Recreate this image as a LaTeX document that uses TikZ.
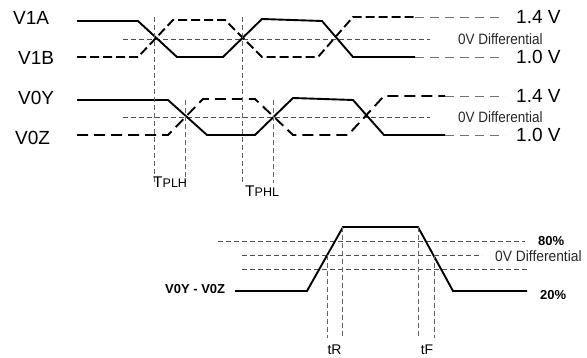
\documentclass[tikz,border=0pt]{standalone}
\usepackage{fontspec}
\setmainfont{Liberation Sans}
\begin{document}
\begin{tikzpicture}[x=1pt,y=-1pt,
  sig/.style={line width=1.9pt, black},
  sigd/.style={sig, dash pattern=on 9pt off 4pt},
  sigdd/.style={sig, dash pattern=on 11pt off 6pt},
  guide/.style={black!60, line width=0.8pt, dash pattern=on 5pt off 3pt},
  zline/.style={black!70, line width=0.8pt, dash pattern=on 5pt off 3pt},
  ext/.style={black!55, line width=0.9pt, dash pattern=on 9pt off 6pt},
  lbl/.style={font=\fontsize{19}{21}\selectfont, inner sep=0pt, anchor=west},
  difl/.style={font=\fontsize{15}{17}\selectfont, inner sep=0pt, anchor=west, black!85},
  bl/.style={font=\bfseries\fontsize{13}{15}\selectfont, inner sep=0pt, anchor=west},
  tl/.style={font=\fontsize{14}{16}\selectfont, inner sep=0pt, anchor=base}
]
\useasboundingbox (0,0) rectangle (587,358);

% ---------- top: V1A / V1B ----------
\node[lbl] (v1a) at (13,18) {V1A};
\node[lbl] (v1b) at (18,58) {V1B};
\draw[zline] (123,39) -- (430,39);
\draw[sig] (77,21) -- (138,21) -- (177,57) -- (223,57) -- (262,19) -- (322,21) -- (353,57) -- (415,57);
\draw[sigd] (77,57) -- (138,57) -- (173,20) -- (225,20) -- (262,57) -- (318,57) -- (353,17) -- (415,17);
\draw[ext] (415,17) -- (505,17);
\draw[ext] (415,57) -- (505,57);
\node[lbl] (h1) at (516,17) {1.4 V};
\node[lbl] (l1) at (516,57) {1.0 V};
\node[difl] (d1) at (458,39) {\scalebox{0.9}[1]{0V Differential}};

% ---------- V0Y / V0Z ----------
\node[lbl] (v0y) at (18,98) {V0Y};
\node[lbl] (v0z) at (15,138) {V0Z};
\draw[zline] (123,117) -- (430,117);
\draw[sig] (77,100) -- (168,100) -- (207,135) -- (255,135) -- (293,98) -- (353,100) -- (384,135) -- (445,135);
\draw[sigdd] (77,135) -- (168,135) -- (203,99) -- (255,99) -- (293,135) -- (348,135) -- (384,96) -- (445,96);
\draw[ext] (445,96) -- (505,96);
\draw[ext] (445,135) -- (505,135);
\node[lbl] (h2) at (516,96) {1.4 V};
\node[lbl] (l2) at (516,135) {1.0 V};
\node[difl] (d2) at (458,117) {\scalebox{0.9}[1]{0V Differential}};

% ---------- propagation verticals ----------
\draw[guide] (154,17) -- (154,182);
\draw[guide] (185,100) -- (185,183);
\draw[guide] (242,17) -- (242,183);
\draw[guide] (273,100) -- (273,183);
\node[inner sep=0pt, anchor=base west] (tplh) at (153,188) {\fontsize{15.5}{17}\selectfont T\fontsize{12.5}{14}\selectfont PLH};
\node[inner sep=0pt, anchor=base west] (tphl) at (245,197) {\fontsize{15.5}{17}\selectfont T\fontsize{12.5}{14}\selectfont PHL};

% ---------- bottom: rise / fall ----------
\draw[zline] (218,241) -- (525,241);
\draw[zline] (242,255) -- (482,255);
\draw[zline] (242,269) -- (527,269);
\draw[sig] (235,291) -- (307,291) -- (343,227) -- (418,227) -- (453,291) -- (527,291);
\draw[guide] (327,255) -- (327,338);
\draw[guide] (342,227) -- (342,338);
\draw[guide] (418,227) -- (418,338);
\draw[guide] (434,255) -- (434,338);
\node[bl] (vd) at (165,289) {V0Y - V0Z};
\node[bl] (p80) at (538,241) {80\%};
\node[bl] (p20) at (540,295) {20\%};
\node[difl] (d3) at (495,256) {\scalebox{0.92}[1]{0V Differential}};
\node[tl] (tr) at (334.5,355) {tR};
\node[tl] (tf) at (427,355) {tF};
\end{tikzpicture}
\end{document}
